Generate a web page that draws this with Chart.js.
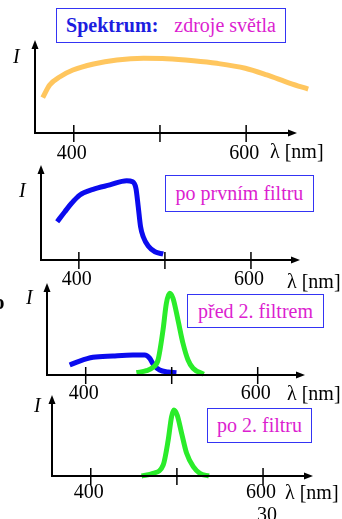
<!DOCTYPE html>
<html>
<head>
<meta charset="utf-8">
<script src="https://cdn.jsdelivr.net/npm/chart.js@4.4.1/dist/chart.umd.min.js"></script>
<style>
    html, body { margin: 0; padding: 0; background: #fff; overflow: hidden; }
    #page { position: relative; width: 342px; height: 519px; font-family: "Liberation Serif", "Times New Roman", serif; }
    #page canvas { position: absolute; left: 0; top: 0; }
    .box {
        position: absolute; box-sizing: border-box; background: #fff;
        border: 1.8px solid #3434f4; color: #dc1ed0; font-size: 20px;
        display: flex; align-items: center; justify-content: center; white-space: nowrap;
    }
    .box b { color: #1d1de0; margin-right: 16px; }
    .free { position: absolute; color: #000; font-size: 20px; line-height: 20px; }
</style>
</head>
<body>
<div id="page">
    <canvas id="c1" width="342" height="519"></canvas>
    <canvas id="c2" width="342" height="519"></canvas>
    <canvas id="c3" width="342" height="519"></canvas>
    <canvas id="c4" width="342" height="519"></canvas>

    <div class="box" style="left:56px;top:8px;width:230px;height:35px;"><b>Spektrum:</b>zdroje světla</div>
    <div class="box" style="left:165px;top:175px;width:149px;height:37px;">po prvním filtru</div>
    <div class="box" style="left:187px;top:294px;width:137px;height:34px;">před 2. filtrem</div>
    <div class="box" style="left:207px;top:408px;width:105px;height:35px;">po 2. filtru</div>

    <div class="free" style="left:-6px;top:292px;font-weight:bold;font-size:21px;">o</div>
    <div class="free" style="left:257px;top:504px;">30</div>
</div>

<script>
    'use strict';

    // wavelength axis, nm
    var tickValues = [400, 500, 600];
    var tickLabels = ['400', '', '600'];

    // panel 1 - light source spectrum
    var sourceWl = [364, 372, 384, 399, 423, 450, 481, 508, 539, 566, 599, 624, 651, 672];
    var sourceI = [38, 51.6, 60.5, 67.7, 74.2, 78.5, 80.3, 79.9, 77.7, 74.9, 69.6, 62.4, 53.4, 47.3];

    // panel 2 - after the first filter
    var filter1Wl = [374.8, 383.7, 391.5, 401.2, 416.6, 436, 455.5, 462.4, 466.3, 469, 471.7, 474.8, 480.6, 488.4, 498];
    var filter1I = [40.3, 50.8, 59.7, 68.4, 74.4, 79, 83.5, 82.4, 75.5, 56.1, 35.1, 24.5, 14.7, 8.7, 6.3];

    // panel 3 - before the second filter (blue = passed light, green = filter band)
    var beforeBlueWl = [381.4, 393, 408.5, 431.7, 455, 468.6, 474.4, 479.1, 486, 495.7, 505.5];
    var beforeBlueI = [10.9, 15.2, 19.2, 20.7, 21.7, 21.7, 18.2, 10.9, 5.4, 3.3, 2.5];
    var bandWl = [459, 470.6, 478.3, 484.1, 489.9, 493.8, 497.7, 501.5, 507.3, 513.1, 519, 524.8, 537.2];
    var bandI = [2.5, 4.7, 8.4, 16.3, 48.9, 77.9, 88.8, 83.4, 59.8, 34.5, 16.3, 7.3, 0.8];

    // panel 4 - after the second filter
    var filter2Wl = [459, 472.4, 484.1, 489.9, 493.8, 496.5, 500.3, 505.5, 511.3, 519, 526.7, 537.2];
    var filter2I = [0, 3.3, 13.6, 44.4, 73.2, 81.5, 75.3, 52.7, 28, 11.5, 3.3, 0];

    var ORANGE = '#ffc65e',
        BLUE = '#0b0bee',
        GREEN = '#2aec2a';

    function pairs(xs, ys) {
        return xs.map(function(x, i) {
            return { x: x, y: ys[i] };
        });
    }

    function arrowHead(ctx, x, y, dir) {
        ctx.beginPath();
        if (dir === 'up') {
            ctx.moveTo(x, y);
            ctx.lineTo(x - 3.5, y + 9);
            ctx.lineTo(x + 3.5, y + 9);
        } else {
            ctx.moveTo(x, y);
            ctx.lineTo(x - 9, y - 3.5);
            ctx.lineTo(x - 9, y + 3.5);
        }
        ctx.closePath();
        ctx.fill();
    }

    // draws the slide style axes: arrows, crossing ticks, labels
    var slideAxes = {
        id: 'slideAxes',
        afterDatasetsDraw: function(chart, args, opts) {
            var ctx = chart.ctx,
                a = chart.chartArea,
                xs = chart.scales.x;

            ctx.save();
            ctx.strokeStyle = '#000';
            ctx.fillStyle = '#000';
            ctx.lineWidth = 2;

            ctx.beginPath();
            ctx.moveTo(a.left, a.bottom + 1);
            ctx.lineTo(a.left, a.top + 6);
            ctx.moveTo(a.left - 1, a.bottom);
            ctx.lineTo(a.right - 6, a.bottom);
            ctx.stroke();
            arrowHead(ctx, a.left, a.top, 'up');
            arrowHead(ctx, a.right, a.bottom, 'right');

            ctx.lineWidth = 1.5;
            ctx.font = '20px "Liberation Serif", serif';
            ctx.textAlign = 'center';
            ctx.textBaseline = 'alphabetic';
            tickValues.forEach(function(v, i) {
                var px = xs.getPixelForValue(v);
                ctx.beginPath();
                ctx.moveTo(px, a.bottom - 8);
                ctx.lineTo(px, a.bottom + 9);
                ctx.stroke();
                if (tickLabels[i]) {
                    ctx.fillText(tickLabels[i], px - 2, a.bottom + opts.labelDy);
                }
            });

            ctx.textAlign = 'left';
            ctx.fillText('\u03bb [nm]', opts.lambdaX, a.bottom + opts.lambdaDy);
            ctx.font = 'italic 20px "Liberation Serif", serif';
            ctx.fillText('I', opts.iX, opts.iY);
            ctx.restore();
        }
    };

    function lineSet(xs, ys, color) {
        return {
            data: pairs(xs, ys),
            borderColor: color,
            borderWidth: 5,
            pointRadius: 0,
            fill: false,
            clip: false,
            cubicInterpolationMode: 'monotone'
        };
    }

    function makePanel(id, datasets, pad, xMin, xMax, axesOpts) {
        return new Chart(document.getElementById(id), {
            type: 'line',
            data: { datasets: datasets },
            options: {
                responsive: false,
                animation: false,
                devicePixelRatio: 1,
                layout: { padding: pad },
                plugins: {
                    legend: { display: false },
                    tooltip: { enabled: false },
                    slideAxes: axesOpts
                },
                scales: {
                    x: { type: 'linear', min: xMin, max: xMax, display: false },
                    y: { min: 0, max: 100, display: false }
                }
            },
            plugins: [slideAxes]
        });
    }

    makePanel('c1', [lineSet(sourceWl, sourceI, ORANGE)],
        { left: 35, top: 40, right: 45, bottom: 386 }, 355, 659,
        { labelDy: 26, lambdaX: 270, lambdaDy: 25, iX: 13, iY: 63 });

    makePanel('c2', [lineSet(filter1Wl, filter1I, BLUE)],
        { left: 41, top: 165, right: 42, bottom: 259 }, 356, 657,
        { labelDy: 25, lambdaX: 287, lambdaDy: 28, iX: 19, iY: 197 });

    makePanel('c3', [lineSet(bandWl, bandI, GREEN), lineSet(beforeBlueWl, beforeBlueI, BLUE)],
        { left: 47, top: 283, right: 37, bottom: 144 }, 355, 655,
        { labelDy: 24, lambdaX: 287, lambdaDy: 25, iX: 26, iY: 304 });

    makePanel('c4', [lineSet(filter2Wl, filter2I, GREEN)],
        { left: 52, top: 395, right: 29, bottom: 43 }, 355, 658,
        { labelDy: 22, lambdaX: 285, lambdaDy: 23, iX: 34, iY: 412 });
</script>
</body>
</html>
